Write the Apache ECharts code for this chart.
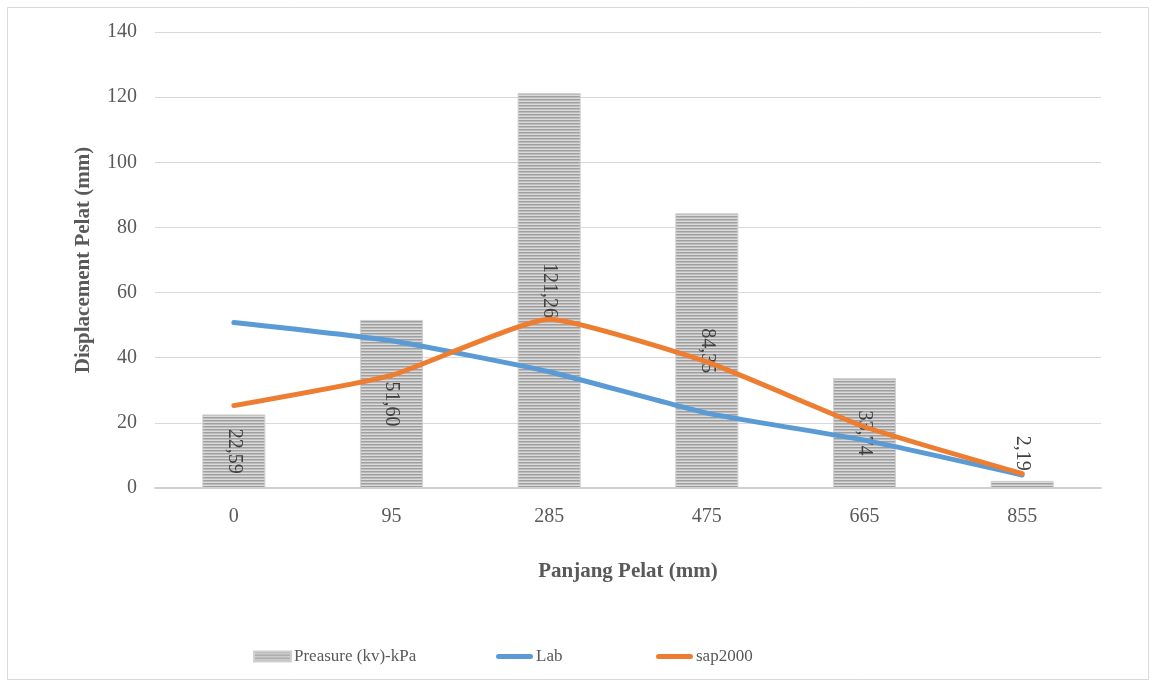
<!DOCTYPE html>
<html>
<head>
<meta charset="utf-8">
<script src="https://cdn.jsdelivr.net/npm/echarts@6/dist/echarts.min.js"></script>
<style>
  html, body { margin: 0; padding: 0; background: #fff; }
  #chart { width: 1152px; height: 683px; }
</style>
</head>
<body>
<div id="chart"></div>
<script>
// Plate length positions (mm)
const categories = ['0', '95', '285', '475', '665', '855'];
// Pressure per position (kPa), shown as bars
const pressure = [22.59, 51.60, 121.26, 84.35, 33.74, 2.19];
// Displacement measured in the lab (mm)
const lab = [50.8, 45.2, 35.7, 23.0, 14.7, 4.0];
// Displacement from the SAP2000 model (mm)
const sap2000 = [25.3, 34.6, 51.8, 38.7, 18.8, 4.4];

const FONT = '"Liberation Serif", "Times New Roman", serif';
const TEXT = '#595959';

// Horizontal stripe fill for the pressure bars
function stripePattern() {
  const c = document.createElement('canvas');
  c.width = 4; c.height = 3;
  const ctx = c.getContext('2d');
  ctx.fillStyle = '#9f9f9f'; ctx.fillRect(0, 0, 4, 1);
  ctx.fillStyle = '#bcbcbc'; ctx.fillRect(0, 1, 4, 1);
  ctx.fillStyle = '#dadada'; ctx.fillRect(0, 2, 4, 1);
  return c;
}
const stripes = { image: stripePattern(), repeat: 'repeat' };

const fmt = v => v.toFixed(2).replace('.', ',');

const barData = pressure.map((v, i) => {
  const item = { value: v };
  if (i === pressure.length - 1) {
    item.label = { position: 'top', align: 'right', verticalAlign: 'middle', distance: 10 };
  }
  return item;
});

// Rounded line swatch for the line series legend entries (37 x 10 box)
const lineIcon = 'path://M0,0L0.01,0M0,10L0.01,10M2.5,2.5L34.5,2.5A2.5,2.5,0,0,1,34.5,7.5L2.5,7.5A2.5,2.5,0,0,1,2.5,2.5Z';

function legendAt(left, name, icon) {
  return {
    left: left,
    top: 643,
    itemWidth: 37,
    itemHeight: 10,
    itemGap: 0,
    textStyle: { fontFamily: FONT, fontSize: 17, color: TEXT, padding: [0, 0, 0, -2] },
    data: [{ name: name, icon: icon }]
  };
}

const chart = echarts.init(document.getElementById('chart'));
chart.setOption({
  animation: false,
  backgroundColor: '#ffffff',
  textStyle: { fontFamily: FONT },
  graphic: [{
    type: 'rect',
    shape: { x: 7.5, y: 7.5, width: 1141, height: 672 },
    style: { fill: 'none', stroke: '#d9d9d9', lineWidth: 1 },
    silent: true
  }],
  grid: { left: 155, right: 51, top: 32, bottom: 195 },
  legend: [
    legendAt(248, 'Preasure (kv)-kPa', 'rect'),
    legendAt(491, 'Lab', lineIcon),
    legendAt(651, 'sap2000', lineIcon)
  ],
  xAxis: {
    type: 'category',
    data: categories,
    name: 'Panjang Pelat (mm)',
    nameLocation: 'middle',
    nameGap: 73,
    nameTextStyle: { fontFamily: FONT, fontSize: 21, fontWeight: 'bold', color: TEXT, verticalAlign: 'top' },
    axisLine: { lineStyle: { color: '#d0d0d0', width: 2 } },
    axisTick: { show: false },
    axisLabel: { fontFamily: FONT, fontSize: 20, color: TEXT, margin: 19 }
  },
  yAxis: {
    type: 'value',
    min: 0,
    max: 140,
    interval: 20,
    name: 'Displacement Pelat (mm)',
    nameLocation: 'middle',
    nameGap: 61,
    nameTextStyle: { fontFamily: FONT, fontSize: 21, fontWeight: 'bold', color: TEXT },
    axisLine: { show: false },
    axisTick: { show: false },
    axisLabel: { fontFamily: FONT, fontSize: 20, color: TEXT, margin: 18 },
    splitLine: { lineStyle: { color: '#d9d9d9', width: 1 } }
  },
  series: [
    {
      name: 'Preasure (kv)-kPa',
      type: 'bar',
      barWidth: '40%',
      data: barData,
      itemStyle: { color: stripes, borderColor: '#d0d0d0', borderWidth: 1 },
      label: {
        show: true,
        position: 'inside',
        rotate: -90,
        fontFamily: FONT,
        fontSize: 20,
        color: '#404040',
        formatter: p => fmt(p.value)
      },
      z: 1
    },
    {
      name: 'Lab',
      type: 'line',
      data: lab,
      smooth: 0.15,
      symbol: 'none',
      lineStyle: { color: '#5b9bd5', width: 5, cap: 'round' },
      itemStyle: { color: '#5b9bd5' },
      z: 3
    },
    {
      name: 'sap2000',
      type: 'line',
      data: sap2000,
      smooth: 0.15,
      symbol: 'none',
      lineStyle: { color: '#ed7d31', width: 5, cap: 'round' },
      itemStyle: { color: '#ed7d31' },
      z: 4
    }
  ]
});
</script>
</body>
</html>
